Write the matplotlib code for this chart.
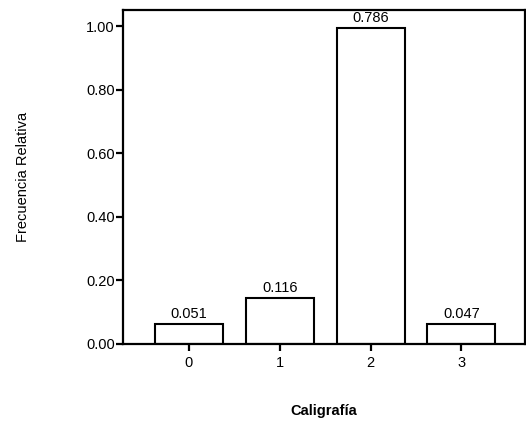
import matplotlib
matplotlib.use("Agg")
import matplotlib.pyplot as plt

# data
categories = ["0", "1", "2", "3"]
bar_heights = [0.063, 0.146, 0.993, 0.063]
bar_labels = ["0.051", "0.116", "0.786", "0.047"]
yticks = [0.0, 0.2, 0.4, 0.6, 0.8, 1.0]

plt.rcParams['font.family'] = ['Liberation Sans', 'DejaVu Sans']

fig = plt.figure(figsize=(5.26, 4.21), dpi=100)
ax = fig.add_axes([0.234, 0.183, 0.764, 0.793])

x = range(len(categories))
bars = ax.bar(x, bar_heights, width=0.75, color='white', edgecolor='black', linewidth=1.5)

for b, lab in zip(bars, bar_labels):
    ax.text(b.get_x() + b.get_width() / 2, b.get_height() + 0.009, lab,
            ha='center', va='bottom', fontsize=10.5)

ax.set_xlim(-0.725, 3.70)
ax.set_ylim(0, 1.05)
ax.set_xticks(list(x))
ax.set_xticklabels(categories, fontsize=10.5)
ax.set_yticks(yticks)
ax.set_yticklabels(["%.2f" % t for t in yticks], fontsize=10.5)

for s in ax.spines.values():
    s.set_linewidth(1.6)
ax.tick_params(direction='out', length=5, width=1.6)
ax.tick_params(axis='x', pad=4)
ax.tick_params(axis='y', pad=1)

ax.set_xlabel("Caligrafía", fontsize=10.5, fontweight='bold', labelpad=24)
ax.set_ylabel("Frecuencia Relativa", fontsize=10.5, labelpad=40)

fig.savefig("out.png", dpi=100)
